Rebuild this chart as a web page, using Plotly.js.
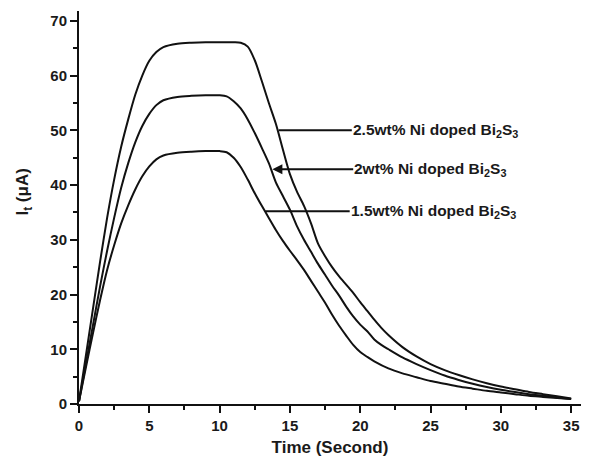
<!DOCTYPE html>
<html>
<head>
<meta charset="utf-8">
<script src="https://cdn.plot.ly/plotly-3.0.1.min.js"></script>
<style>html,body{margin:0;padding:0;background:#fff;}#chart{width:604px;height:466px;}</style>
</head>
<body>
<div id="chart"></div>
<script>
// Time (s) for each series
const time25 = [0,0.5,1,1.5,2,2.5,3,3.5,4,4.5,5,5.5,6,7,8,9,10,11,11.5,12,12.5,13,13.5,14,14.5,15,15.5,16,16.5,17,17.5,18,18.5,19,19.5,20,20.5,21,21.5,22,23,24,25,26,27,28,29,30,31,32,33,34,35];
const curr25 = [0.5,9,17.5,26,34,41,47,52,56.5,60,62.7,64.3,65.2,65.8,66,66.1,66.1,66.1,66,65.3,62.8,59,55,51.2,46.5,42,38.8,36.2,33,29.3,27,25,23.3,21.8,20.3,18.6,17,15.4,13.9,12.6,10.4,8.7,7.3,6.2,5.3,4.5,3.8,3.2,2.7,2.2,1.8,1.4,1.0];

const time20 = [0,0.5,1,1.5,2,2.5,3,3.5,4,4.5,5,5.5,6,7,8,9,10,10.5,11,11.5,12,12.5,13,13.5,14,14.5,15,15.5,16,16.5,17,17.5,18,18.5,19,19.5,20,20.5,21,21.5,22,23,24,25,26,27,28,29,30,31,32,33,34,35];
const curr20 = [0.5,7.5,14.5,21.5,28,34,39.5,44,47.8,50.8,53,54.6,55.5,56.1,56.3,56.4,56.4,56.2,55.3,54,52,49.5,46.8,44,40.5,38,35.5,32.5,30,27.8,25.6,23.6,21.6,19.8,17.8,16,14.5,13.3,11.8,10.8,10,8.5,7.3,6.2,5.2,4.4,3.7,3.1,2.6,2.2,1.8,1.5,1.2,0.9];

const time15 = [0,0.5,1,1.5,2,2.5,3,3.5,4,4.5,5,5.5,6,7,8,9,10,10.5,11,11.5,12,12.5,13,13.5,14,14.5,15,15.5,16,16.5,17,17.5,18,18.5,19,19.5,20,20.5,21,22,23,24,25,26,27,28,29,30,31,32,33,34,35];
const curr15 = [0.5,6.8,13,19,24.5,29,33,36.3,39.2,41.6,43.4,44.7,45.4,45.9,46.1,46.2,46.2,46,45,43.3,41,38.5,36.2,34,31.8,29.8,28,26.3,24.5,22.5,20.5,18.5,16.3,14.3,12.5,10.8,9.5,8.6,7.8,6.5,5.6,4.9,4.2,3.7,3.2,2.8,2.4,2.1,1.8,1.5,1.3,1.1,0.9];

const seriesNames = ["2.5wt% Ni doped Bi<sub>2</sub>S<sub>3</sub>", "2wt% Ni doped Bi<sub>2</sub>S<sub>3</sub>", "1.5wt% Ni doped Bi<sub>2</sub>S<sub>3</sub>"];
// label anchor points: [tip time, tip current, text time]
const labelTips = [[14.2, 50.0, 19.4], [13.75, 42.9, 19.5], [13.25, 35.2, 19.25]];
const labelHeads = [0, 2, 0];

const xTicks = [0,5,10,15,20,25,30,35];
const yTicks = [0,10,20,30,40,50,60,70];
const xTitle = 'Time (Second)';
const yTitle = 'I<sub>t</sub> (μA)';

const lineStyle = {color: '#111', width: 2, shape: 'spline', smoothing: 0.8};
const traces = [
  {x: time25, y: curr25, name: seriesNames[0], mode: 'lines', line: lineStyle},
  {x: time20, y: curr20, name: seriesNames[1], mode: 'lines', line: lineStyle},
  {x: time15, y: curr15, name: seriesNames[2], mode: 'lines', line: lineStyle}
];

const fontBase = {family: 'Liberation Sans, Arial, sans-serif', color: '#1a1a1a', weight: 'bold'};

const annotations = seriesNames.map((n, i) => ({
  x: labelTips[i][0], y: labelTips[i][1],
  ax: labelTips[i][2], ay: labelTips[i][1],
  xref: 'x', yref: 'y', axref: 'x', ayref: 'y',
  text: n, showarrow: true, arrowhead: labelHeads[i], arrowsize: 1, arrowwidth: 2,
  arrowcolor: '#111', standoff: 0, xanchor: 'left', yanchor: 'middle',
  borderpad: 0,
  font: Object.assign({}, fontBase, {size: 15.5})
}));
annotations.push({
  xref: 'paper', yref: 'paper', x: -0.11, y: 0.54,
  xanchor: 'center', yanchor: 'middle', textangle: -90, showarrow: false,
  text: yTitle, font: Object.assign({}, fontBase, {size: 17})
});

const layout = {
  width: 604, height: 466,
  margin: {l: 79, r: 23, t: 11, b: 62},
  paper_bgcolor: '#fff', plot_bgcolor: '#fff',
  showlegend: false,
  xaxis: {
    range: [0, 35.7], tickvals: xTicks, ticktext: xTicks.map(String),
    showgrid: false, zeroline: false, showline: true, linecolor: '#111', linewidth: 2,
    ticks: 'outside', ticklen: 7, tickwidth: 2, tickcolor: '#111',
    minor: {dtick: 2.5, ticks: 'outside', ticklen: 4, tickwidth: 2, tickcolor: '#111', showgrid: false},
    tickfont: Object.assign({}, fontBase, {size: 15}),
    title: {text: xTitle, font: Object.assign({}, fontBase, {size: 17}), standoff: 8}
  },
  yaxis: {
    range: [0, 71.8], tickvals: yTicks, ticktext: yTicks.map(String),
    showgrid: false, zeroline: false, showline: true, linecolor: '#111', linewidth: 2,
    ticks: 'outside', ticklen: 7, tickwidth: 2, tickcolor: '#111',
    minor: {dtick: 5, ticks: 'outside', ticklen: 4, tickwidth: 2, tickcolor: '#111', showgrid: false},
    tickfont: Object.assign({}, fontBase, {size: 15})
  },
  annotations: annotations
};

Plotly.newPlot('chart', traces, layout, {displayModeBar: false, staticPlot: true});
</script>
</body>
</html>
